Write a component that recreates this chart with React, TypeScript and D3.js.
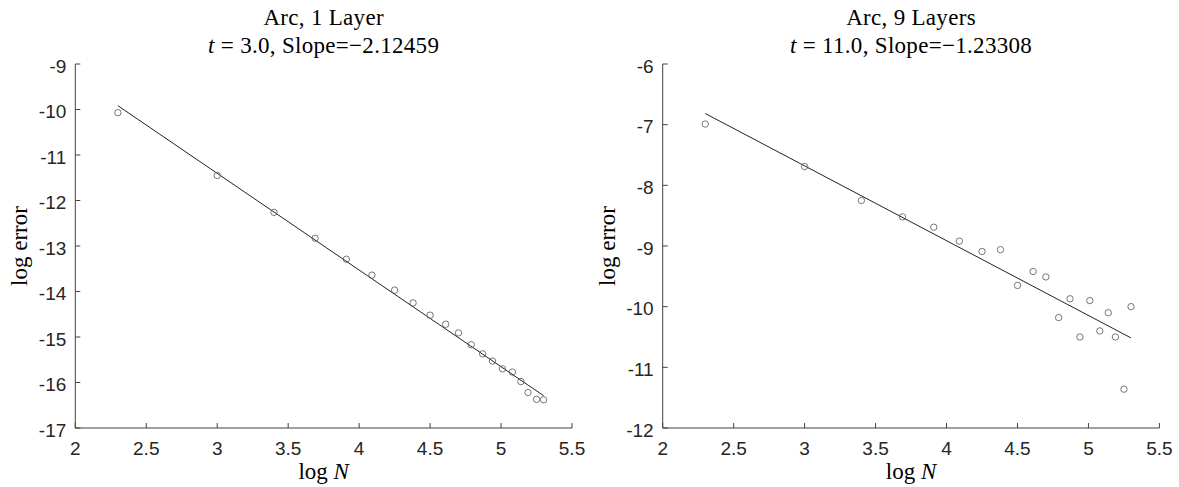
import React from "react";
import * as d3 from "d3";

// log N values (shared by both panels)
const logN = [2.30, 3.0, 3.40, 3.69, 3.91, 4.09, 4.25, 4.38, 4.50, 4.61, 4.70, 4.79, 4.87, 4.94, 5.01, 5.08, 5.14, 5.19, 5.25, 5.30];
// left panel: Arc, 1 Layer
const errLeft = [-10.07, -11.45, -12.26, -12.83, -13.29, -13.64, -13.97, -14.25, -14.52, -14.72, -14.91, -15.17, -15.37, -15.53, -15.70, -15.77, -15.98, -16.22, -16.37, -16.38];
// right panel: Arc, 9 Layers
const errRight = [-6.99, -7.69, -8.25, -8.52, -8.69, -8.92, -9.09, -9.06, -9.65, -9.42, -9.51, -10.18, -9.87, -10.50, -9.90, -10.40, -10.10, -10.50, -11.36, -10.00];

const xTicks = [2, 2.5, 3, 3.5, 4, 4.5, 5, 5.5];
const yTicksLeft = [-17, -16, -15, -14, -13, -12, -11, -10, -9];
const yTicksRight = [-12, -11, -10, -9, -8, -7, -6];

const panels = [
  { title1: "Arc, 1 Layer", tVal: "3.0", slope: -2.12459, intercept: -5.03, ys: errLeft, yDomain: [-17, -9], yTicks: yTicksLeft, left: 75.3 },
  { title1: "Arc, 9 Layers", tVal: "11.0", slope: -1.23308, intercept: -3.98, ys: errRight, yDomain: [-12, -6], yTicks: yTicksRight, left: 662.7 },
];

const W = 1179;
const H = 487;
const TOP = 64;
const BOTTOM = 428;
const PW = 496.7;
const AX = "#404040";
const SANS = "'Liberation Sans', Arial, Helvetica, sans-serif";
const SERIF = "'Liberation Serif', 'Times New Roman', serif";

function Panel({ p }: { p: any }) {
  const x = d3.scaleLinear().domain([2, 5.5]).range([p.left, p.left + PW]);
  const y = d3.scaleLinear().domain(p.yDomain).range([BOTTOM, TOP]);
  const cx = p.left + PW / 2;
  const x0 = logN[0];
  const x1 = logN[logN.length - 1];
  const fit = d3.line<number>().x((d) => x(d)).y((d) => y(p.intercept + p.slope * d));
  return (
    <g>
      <text x={cx} y={25} textAnchor="middle" fontFamily={SERIF} fontSize={23} letterSpacing={0.3} fill="#000">{p.title1}</text>
      <text x={cx} y={53} textAnchor="middle" fontFamily={SERIF} fontSize={23} letterSpacing={0.3} fill="#000">
        <tspan fontStyle="italic">t</tspan> = {p.tVal}, Slope=−{Math.abs(p.slope).toFixed(5)}
      </text>
      {/* axes */}
      <line x1={p.left} x2={p.left} y1={TOP} y2={BOTTOM} stroke={AX} strokeWidth={1} />
      <line x1={p.left} x2={p.left + PW} y1={BOTTOM} y2={BOTTOM} stroke={AX} strokeWidth={1} />
      {p.yTicks.map((t: number) => (
        <g key={"y" + t}>
          <line x1={p.left} x2={p.left + 5} y1={y(t)} y2={y(t)} stroke={AX} strokeWidth={1} />
          <text x={p.left - 9} y={y(t) + 8.5} textAnchor="end" fontFamily={SANS} fontSize={19} fill="#262626">{String(t)}</text>
        </g>
      ))}
      {xTicks.map((t) => (
        <g key={"x" + t}>
          <line x1={x(t)} x2={x(t)} y1={BOTTOM} y2={BOTTOM - 5} stroke={AX} strokeWidth={1} />
          <text x={x(t)} y={455} textAnchor="middle" fontFamily={SANS} fontSize={19} fill="#262626">{String(t)}</text>
        </g>
      ))}
      <text x={cx} y={479} textAnchor="middle" fontFamily={SERIF} fontSize={23} fill="#000">
        log <tspan fontStyle="italic">N</tspan>
      </text>
      <text transform={`translate(${p.left - 48},${(TOP + BOTTOM) / 2}) rotate(-90)`} textAnchor="middle" fontFamily={SERIF} fontSize={23} fill="#000">log error</text>
      <path d={fit([x0, x1]) || ""} fill="none" stroke="#222" strokeWidth={1} />
      {logN.map((v, i) => (
        <circle key={i} cx={x(v)} cy={y(p.ys[i])} r={3.2} fill="none" stroke="#555" strokeWidth={0.8} />
      ))}
    </g>
  );
}

export default function App() {
  return (
    <svg width={W} height={H} style={{ position: "absolute", left: 0, top: 0, background: "#fff" }}>
      <rect width={W} height={H} fill="#fff" />
      {panels.map((p, i) => (
        <Panel key={i} p={p} />
      ))}
    </svg>
  );
}
